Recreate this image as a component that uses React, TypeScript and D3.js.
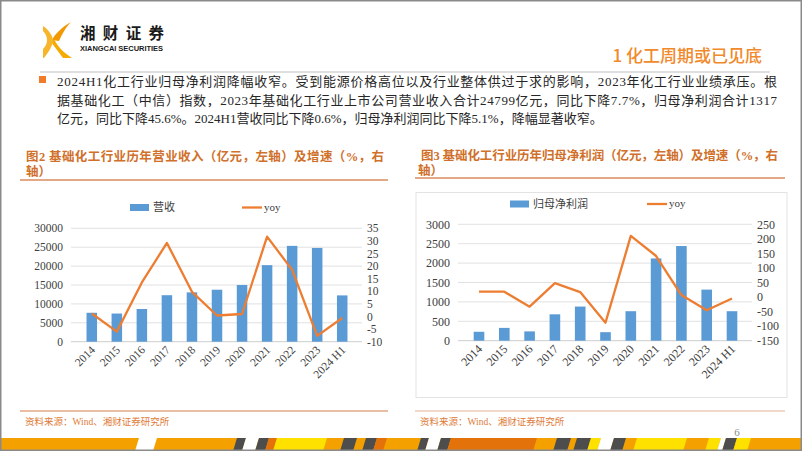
import React from 'react';
import * as d3 from 'd3';

// ---- data ----
const years = ['2014', '2015', '2016', '2017', '2018', '2019', '2020', '2021', '2022', '2023', '2024 H1'];

const revenue = [7650, 7450, 8650, 12300, 13050, 13750, 15000, 20250, 25350, 24799, 12250];
const revenueYoy = [1.2, -6.0, 13.5, 29.2, 9.8, 0.4, 1.0, 31.7, 18.5, -7.7, -0.6];

const profit = [230, 330, 240, 680, 880, 220, 760, 2120, 2440, 1317, 760];
const profitYoy = [18.5, 18.5, -33, 48, 17, -88, 210, 141, 7, -45.6, -5.1];

const revLeftTicks = [0, 5000, 10000, 15000, 20000, 25000, 30000];
const revRightTicks = [-10, -5, 0, 5, 10, 15, 20, 25, 30, 35];
const profLeftTicks = [0, 500, 1000, 1500, 2000, 2500, 3000];
const profRightTicks = [-150, -100, -50, 0, 50, 100, 150, 200, 250];

const paraLines = [
  '2024H1化工行业归母净利润降幅收窄。受到能源价格高位以及行业整体供过于求的影响，2023年化工行业业绩承压。根',
  '据基础化工（中信）指数，2023年基础化工行业上市公司营业收入合计24799亿元，同比下降7.7%，归母净利润合计1317',
  '亿元，同比下降45.6%。2024H1营收同比下降0.6%，归母净利润同比下降5.1%，降幅显著收窄。',
];

// decorative footer stripe: [x0, x1, colour key]
const stripe: [number, number, string][] = [
  [135, 153, 'w'], [233, 242, 'k'], [242, 255, 'w'], [255, 265, 'k'], [265, 273, 'o'],
  [273, 323, 'y'], [340, 353, 'k'], [362, 373, 'k'], [373, 383, 'o'],
  [417, 425, 'k'], [425, 437, 'w'], [437, 447, 'k'], [447, 533, 'o'], [553, 567, 'k'],
  [573, 587, 'k'], [587, 597, 'y'], [597, 610, 'w'], [610, 622, 'k'], [633, 683, 'y'],
  [705, 717, 'y'], [717, 722, 'w'], [722, 733, 'k'], [733, 747, 'y'],
];
const stripeColors: Record<string, string> = { w: '#ffffff', k: '#4d4d4d', o: '#e4720a', y: '#ffe100' };

const BLUE = '#5b9bd5';
const ORANGE = '#ed7d31';
const SERIF = '"Liberation Serif", "Noto Sans CJK SC", serif';
const SANS = '"Noto Sans CJK SC", "Noto Sans", sans-serif';
const TITLE_C = '#d0702a';

function ComboChart({ bars, line, leftTicks, rightTicks, x0, x1, yTop, yBottom, labelSize, legendName, legendX, legendY, lineLegendX }) {
  const x = d3.scaleBand().domain(years).range([x0, x1]).padding(0.58);
  const yl = d3.scaleLinear().domain([leftTicks[0], leftTicks[leftTicks.length - 1]]).range([yBottom, yTop]);
  const yr = d3.scaleLinear().domain([rightTicks[0], rightTicks[rightTicks.length - 1]]).range([yBottom, yTop]);
  const path = d3.line<number>()
    .x((_, i) => x(years[i])! + x.bandwidth() / 2)
    .y((d) => yr(d))(line);

  return (
    <g>
      {leftTicks.map((t) => (
        <g key={'l' + t}>
          <line x1={x0 - 1} x2={x1} y1={yl(t)} y2={yl(t)} stroke={t === 0 ? '#bfbfbf' : '#d9d9d9'} strokeWidth={0.8} />
          <text x={x0 - 9} y={yl(t)} dy="0.35em" textAnchor="end" fontFamily={SERIF} fontSize={labelSize} fill="#404040">{t}</text>
        </g>
      ))}
      {rightTicks.map((t) => (
        <text key={'r' + t} x={x1 + 5} y={yr(t)} dy="0.35em" fontFamily={SERIF} fontSize={labelSize} fill="#404040">{t}</text>
      ))}
      {bars.map((v, i) => (
        <rect key={'b' + i} x={x(years[i])} y={yl(v)} width={x.bandwidth()} height={yl(0) - yl(v)} fill={BLUE} />
      ))}
      <path d={path!} fill="none" stroke={ORANGE} strokeWidth={2.3} strokeLinejoin="round" />
      {years.map((yr_, i) => (
        <text key={'x' + i} fontFamily={SERIF} fontSize={labelSize} fill="#404040" textAnchor="end"
          transform={`translate(${x(yr_)! + x.bandwidth() / 2 + 4},${yBottom + 9}) rotate(-45)`}>{yr_}</text>
      ))}
      <rect x={legendX} y={legendY - 3.5} width={19} height={7} fill={BLUE} />
      <text x={legendX + 23} y={legendY} dy="0.35em" fontFamily={SERIF} fontSize={11} fill="#404040">{legendName}</text>
      <line x1={lineLegendX} x2={lineLegendX + 20} y1={legendY} y2={legendY} stroke={ORANGE} strokeWidth={2.3} />
      <text x={lineLegendX + 22} y={legendY} dy="0.3em" fontFamily={SERIF} fontSize={11} fill="#404040">yoy</text>
    </g>
  );
}

export default function App() {
  return (
    <svg width={802} height={451} style={{ position: 'fixed', left: 0, top: 0, background: '#fff' }}>
      <rect x={0} y={0} width={802} height={451} fill="#fff" />

      {/* logo */}
      <g>
        <path d="M71,22 C62,27 55,34 52,40 L59,41 C62,34 66,27 71,22 Z" fill="#f39800" />
        <path d="M54,39 C58,47 64,53 72,58 L63,58 C59,53 55,47 51,42 Z" fill="#f6ab00" />
        <path d="M43,26 C49,30 53,36 53,41 C52,47 48,53 44,58 L43,58 L43,49 C46,46 47,43 47,40 C47,36 45,33 43,31 Z" fill="#f7b52c" />
        <text x={80} y={39} textLength={84} fontFamily={SANS} fontWeight={700} fontSize={15.5} fill="#1a1a1a">湘财证券</text>
        <text x={80} y={50.5} textLength={83} fontFamily='"Liberation Sans", sans-serif' fontWeight={700} fontSize={7.5} fill="#1a1a1a">XIANGCAI SECURITIES</text>
      </g>
      <text x={762} y={62} textAnchor="end" fontFamily={SANS} fontWeight={500} fontSize={17} fill="#f08a2c">1 化工周期或已见底</text>
      <line x1={40} x2={770} y1={72} y2={72} stroke="#bfbfbf" strokeWidth={1.2} />

      {/* paragraph */}
      <rect x={39} y={76} width={7} height={7} fill="#f07c2a" />
      {paraLines.map((l, i) => (
        <text key={i} x={57} y={86 + i * 18.5} textLength={i < 2 ? 720 : undefined} lengthAdjust="spacing"
          fontFamily={SERIF} fontSize={13} fill="#262626">{l}</text>
      ))}

      {/* chart titles */}
      <text x={26} y={161} textLength={358} fontFamily={SERIF} fontWeight={700} fontSize={12.5} fill={TITLE_C}>图2 基础化工行业历年营业收入（亿元，左轴）及增速（%，右</text>
      <text x={26} y={176} fontFamily={SERIF} fontWeight={700} fontSize={12.5} fill={TITLE_C}>轴）</text>
      <line x1={20} x2={388} y1={180} y2={180} stroke="#e3a987" strokeWidth={1.8} />

      <text x={421} y={160} textLength={357} fontFamily={SERIF} fontWeight={700} fontSize={12.5} fill={TITLE_C}>图3 基础化工行业历年归母净利润（亿元，左轴）及增速（%，右</text>
      <text x={418} y={175} fontFamily={SERIF} fontWeight={700} fontSize={12.5} fill={TITLE_C}>轴）</text>
      <line x1={415} x2={785} y1={178} y2={178} stroke="#e3a987" strokeWidth={1.8} />
      <rect x={416} y={192.5} width={371} height={205} fill="none" stroke="#e3e3e3" strokeWidth={1} />

      <ComboChart bars={revenue} line={revenueYoy} leftTicks={revLeftTicks} rightTicks={revRightTicks}
        x0={72} x1={362} yTop={228.3} yBottom={341.7} labelSize={11.5}
        legendName="营收" legendX={130} legendY={207.5} lineLegendX={242} />
      <ComboChart bars={profit} line={profitYoy} leftTicks={profLeftTicks} rightTicks={profRightTicks}
        x0={459} x1={752} yTop={224.3} yBottom={340.7} labelSize={12}
        legendName="归母净利润" legendX={510} legendY={204} lineLegendX={647} />

      {/* sources */}
      <line x1={20} x2={388} y1={411} y2={411} stroke="#e3a987" strokeWidth={1.5} />
      <text x={25} y={425} fontFamily={SERIF} fontSize={9.5} fill="#e07b39">资料来源：Wind、湘财证券研究所</text>
      <line x1={415} x2={785} y1={411} y2={411} stroke="#edcdb7" strokeWidth={1.5} />
      <text x={420} y={425} fontFamily={SERIF} fontSize={9.5} fill="#e07b39">资料来源：Wind、湘财证券研究所</text>
      <text x={737} y={436} textAnchor="middle" fontFamily={SERIF} fontSize={11} fill="#8c8c8c">6</text>

      {/* footer stripe */}
      <rect x={0} y={438} width={802} height={13} fill="#f4a100" />
      {stripe.map(([a, b, c], i) => (
        <polygon key={i} points={`${a + 4},438 ${b + 4},438 ${b},451 ${a},451`} fill={stripeColors[c]} />
      ))}

      <rect x={0.75} y={0.75} width={800.5} height={449.5} fill="none" stroke="#8a8a8a" strokeWidth={1.5} />
    </svg>
  );
}
